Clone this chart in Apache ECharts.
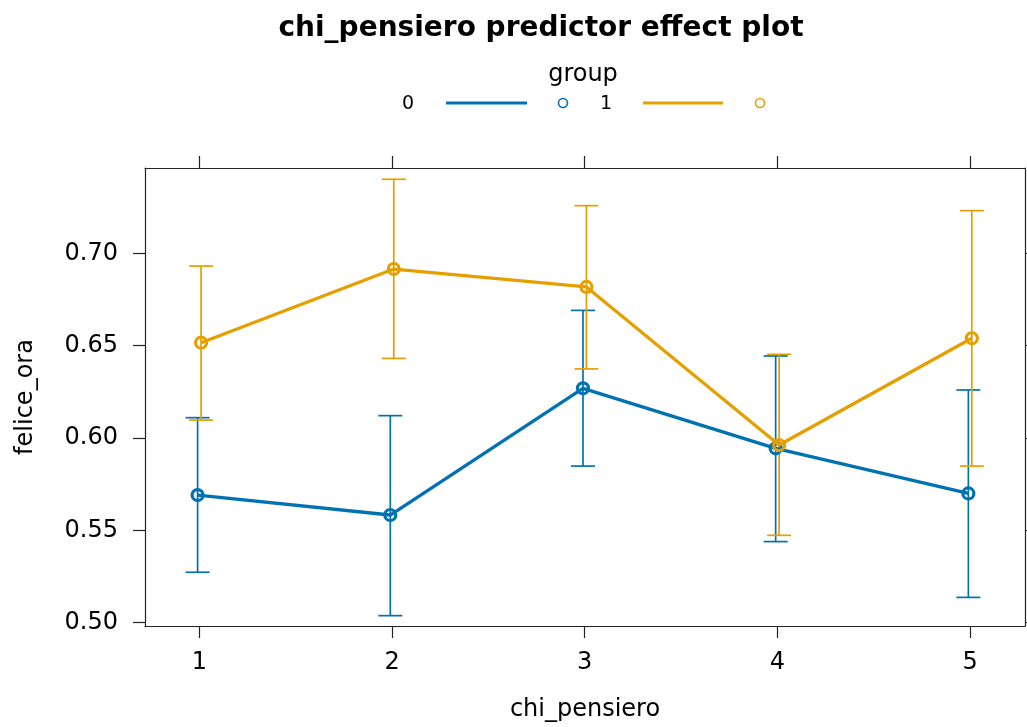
<!DOCTYPE html>
<html>
<head>
<meta charset="utf-8">
<script src="https://cdn.jsdelivr.net/npm/echarts@6/dist/echarts.min.js"></script>
<style>
  html, body { margin: 0; padding: 0; background: #fff; overflow: hidden; }
  #chart { width: 1027px; height: 727px; }
</style>
</head>
<body>
<div id="chart"></div>
<script>
// chi_pensiero levels and the two groups
const levels = [1, 2, 3, 4, 5];
const groups = ['0', '1'];

// fitted felice_ora with lower / upper confidence limits, per group
const fit0   = [0.5691, 0.5583, 0.6269, 0.5944, 0.5700];
const lower0 = [0.5273, 0.5038, 0.5848, 0.5439, 0.5137];
const upper0 = [0.6110, 0.6121, 0.6691, 0.6444, 0.6260];

const fit1   = [0.6516, 0.6915, 0.6818, 0.5962, 0.6540];
const lower1 = [0.6097, 0.6431, 0.6374, 0.5473, 0.5848];
const upper1 = [0.6931, 0.7401, 0.7258, 0.6453, 0.7231];

const yTicks = [0.50, 0.55, 0.60, 0.65, 0.70];

const colors = ['#0072B2', '#E69F00'];
const dodge = [-0.009, 0.009];
const FONT = '"DejaVu Sans", "Liberation Sans", Arial, sans-serif';

function points(fit, g) {
  return levels.map((x, i) => [x + dodge[g], fit[i]]);
}
function bars(lo, hi, g) {
  return levels.map((x, i) => [x + dodge[g], lo[i], hi[i]]);
}

// vertical confidence interval with short caps at both ends
function errorBarSeries(lo, hi, g) {
  return {
    type: 'custom',
    z: 2,
    data: bars(lo, hi, g),
    encode: { x: 0, y: [1, 2] },
    renderItem: function (params, api) {
      const x = api.value(0);
      const pLo = api.coord([x, api.value(1)]);
      const pHi = api.coord([x, api.value(2)]);
      const cap = 12;
      const style = { stroke: colors[g], lineWidth: 1.7, fill: null };
      return {
        type: 'group',
        children: [
          { type: 'line', shape: { x1: pLo[0], y1: pLo[1], x2: pHi[0], y2: pHi[1] }, style: style },
          { type: 'line', shape: { x1: pLo[0] - cap, y1: pLo[1], x2: pLo[0] + cap, y2: pLo[1] }, style: style },
          { type: 'line', shape: { x1: pHi[0] - cap, y1: pHi[1], x2: pHi[0] + cap, y2: pHi[1] }, style: style }
        ]
      };
    }
  };
}

function lineSeries(fit, g) {
  return {
    type: 'line',
    name: groups[g],
    z: 3 + g,
    data: points(fit, g),
    symbol: 'circle',
    symbolSize: 11,
    lineStyle: { color: colors[g], width: 3.3 },
    itemStyle: { color: 'rgba(255,255,255,0)', borderColor: colors[g], borderWidth: 3.2 },
    animation: false
  };
}

const xMin = 0.718, xMax = 5.285;
const yMin = 0.4982, yMax = 0.7462;

const axisLine = { show: true, lineStyle: { color: '#222', width: 1.2 } };
const tickStyle = { show: true, inside: false, length: 12, lineStyle: { color: '#222', width: 1.2 } };

const chart = echarts.init(document.getElementById('chart'), null, { renderer: 'canvas' });
chart.setOption({
  animation: false,
  backgroundColor: '#ffffff',
  title: {
    text: 'chi_pensiero predictor effect plot',
    left: 536,
    textAlign: 'center',
    top: 10,
    textStyle: { fontFamily: FONT, fontSize: 28, fontWeight: 'bold', color: '#000' }
  },
  grid: { left: 145, right: 2, top: 168, bottom: 101, outerBoundsMode: 'none' },
  xAxis: [
    {
      type: 'value', position: 'bottom', min: xMin, max: xMax,
      name: 'chi_pensiero', nameLocation: 'middle', nameGap: 72,
      nameTextStyle: { fontFamily: FONT, fontSize: 24, color: '#000' },
      axisLine: axisLine,
      axisTick: Object.assign({ customValues: levels }, tickStyle),
      axisLabel: { customValues: levels, margin: 25, fontFamily: FONT, fontSize: 24, color: '#000',
                   formatter: v => String(Math.round(v)) },
      splitLine: { show: false }
    },
    {
      type: 'value', position: 'top', min: xMin, max: xMax,
      axisLine: axisLine,
      axisTick: Object.assign({ customValues: levels }, tickStyle),
      axisLabel: { show: false },
      splitLine: { show: false }
    }
  ],
  yAxis: [
    {
      type: 'value', position: 'left', min: yMin, max: yMax,
      name: 'felice_ora', nameLocation: 'middle', nameGap: 107, nameRotate: 90,
      nameTextStyle: { fontFamily: FONT, fontSize: 24, color: '#000' },
      axisLine: axisLine,
      axisTick: Object.assign({ customValues: yTicks }, tickStyle),
      axisLabel: { customValues: yTicks, margin: 27, fontFamily: FONT, fontSize: 24, color: '#000',
                   formatter: v => v.toFixed(2) },
      splitLine: { show: false }
    },
    {
      type: 'value', position: 'right', min: yMin, max: yMax,
      axisLine: axisLine,
      axisTick: Object.assign({ customValues: yTicks }, tickStyle),
      axisLabel: { show: false },
      splitLine: { show: false }
    }
  ],
  series: [
    errorBarSeries(lower0, upper0, 0),
    lineSeries(fit0, 0),
    errorBarSeries(lower1, upper1, 1),
    lineSeries(fit1, 1)
  ],
  // group key: label, line sample and point symbol for each level
  graphic: [
    { type: 'text', x: 583, y: 75, style: { text: 'group', fontFamily: FONT, fontSize: 24, fill: '#000', align: 'center', verticalAlign: 'middle' } },
    { type: 'text', x: 408, y: 104, style: { text: groups[0], fontFamily: FONT, fontSize: 19, fill: '#000', align: 'center', verticalAlign: 'middle' } },
    { type: 'line', shape: { x1: 446, y1: 103, x2: 527, y2: 103 }, style: { stroke: colors[0], lineWidth: 3 } },
    { type: 'circle', shape: { cx: 563, cy: 103, r: 4.5 }, style: { stroke: colors[0], lineWidth: 1.6, fill: null } },
    { type: 'text', x: 606, y: 104, style: { text: groups[1], fontFamily: FONT, fontSize: 19, fill: '#000', align: 'center', verticalAlign: 'middle' } },
    { type: 'line', shape: { x1: 643, y1: 103, x2: 723, y2: 103 }, style: { stroke: colors[1], lineWidth: 3 } },
    { type: 'circle', shape: { cx: 760, cy: 103, r: 4.5 }, style: { stroke: colors[1], lineWidth: 1.6, fill: null } }
  ]
});
</script>
</body>
</html>
